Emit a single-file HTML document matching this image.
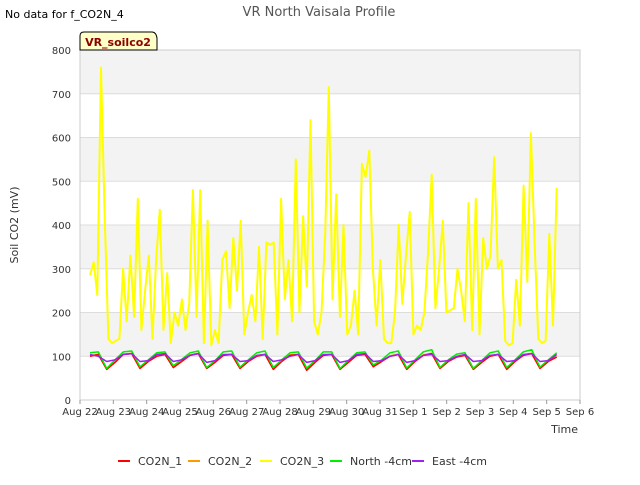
<!DOCTYPE html>
<html><head><meta charset="utf-8"><style>
body{margin:0;background:#fff;font-family:"Liberation Sans",sans-serif}
svg text{font-family:"DejaVu Sans","Liberation Sans",sans-serif}
</style></head><body>
<svg width="640" height="480" xmlns="http://www.w3.org/2000/svg">
<text x="5" y="18" font-size="11" fill="#000">No data for f_CO2N_4</text>
<text x="319" y="16" font-size="13" fill="#555" text-anchor="middle">VR North Vaisala Profile</text>
<g id="bands"></g>
<g id="grid"></g>
<rect x="80" y="50" width="500" height="350" fill="none" stroke="#ccc"/>
<g id="axes"></g>
<g id="series"></g>
<g>
<path d="M80,50 V36 Q80,32 84,32 H152 Q156,32 157,38 V50 Z" fill="#ffffc8" stroke="#000"/>
<text x="118" y="46" font-size="11" font-weight="bold" fill="#8b0000" text-anchor="middle">VR_soilco2</text>
</g>
<text x="18" y="225" font-size="11" fill="#333" text-anchor="middle" transform="rotate(-90 18 225)">Soil CO2 (mV)</text>
<text x="578" y="433" font-size="11" fill="#333" text-anchor="end">Time</text>
<g id="legend"></g>
</svg>
<script>
const xTicks=["Aug 22","Aug 23","Aug 24","Aug 25","Aug 26","Aug 27","Aug 28","Aug 29","Aug 30","Aug 31","Sep 1","Sep 2","Sep 3","Sep 4","Sep 5","Sep 6"];
const yTicks=[0,100,200,300,400,500,600,700,800];
const co2n3=[285,315,240,760,420,140,130,135,140,300,180,330,190,460,160,250,330,140,320,435,160,290,130,200,170,230,160,220,480,190,480,130,410,125,160,130,320,340,210,370,250,410,150,200,240,180,350,140,360,355,360,150,460,230,320,180,550,200,420,260,640,180,150,200,380,715,230,470,190,400,150,170,250,150,540,510,570,300,170,320,140,130,130,200,400,220,330,430,150,170,160,200,340,515,210,300,410,200,205,210,300,250,180,450,160,460,150,370,300,330,555,300,320,135,125,130,275,170,490,270,610,360,140,130,135,380,170,485];
const north4=[108,110,72,92,110,112,76,92,108,110,78,93,108,112,74,90,110,112,75,92,108,112,74,92,108,110,73,90,110,110,72,90,108,110,80,92,108,112,73,92,110,115,74,92,105,108,72,90,108,112,74,92,110,115,75,92,108];
const co2n1=[100,104,70,86,104,106,72,88,100,104,74,88,102,106,72,86,102,104,72,88,100,104,70,88,102,104,68,86,102,104,70,86,102,104,76,88,100,104,70,88,102,106,72,88,98,102,70,86,100,104,70,88,102,106,72,88,98];
const co2n2=co2n1.map(v=>v+1);
const east4=[104,100,88,92,104,106,88,90,104,106,88,92,102,106,86,90,104,104,88,90,102,104,88,92,100,104,86,90,104,104,86,90,104,106,88,90,100,104,86,90,102,104,88,90,100,104,88,90,102,104,88,90,104,106,88,90,104];
const NS="http://www.w3.org/2000/svg";
const X=d=>80+d*500/15, Y=v=>400-v*350/800;
function mk(t,a,p){const e=document.createElementNS(NS,t);for(const k in a)e.setAttribute(k,a[k]);p.appendChild(e);return e;}
const bands=document.getElementById('bands'),grid=document.getElementById('grid'),axes=document.getElementById('axes');
for(let i=0;i<8;i++){if(i%2==1){const r=mk('rect',{x:80,y:Y(yTicks[i+1]),width:500,height:Y(yTicks[i])-Y(yTicks[i+1]),fill:'#f3f3f3'},bands);

}}
yTicks.forEach(v=>{const l=mk('line',{x1:80,x2:580,y1:Y(v),y2:Y(v),stroke:'#ddd'},grid);


const t=mk('text',{x:71,y:Y(v)+4,'font-size':10,fill:'#333','text-anchor':'end'},axes);t.textContent=v;

});
xTicks.forEach((s,i)=>{mk('line',{x1:X(i),x2:X(i),y1:400,y2:404,stroke:'#999'},axes);
const t=mk('text',{x:X(i),y:415,'font-size':10,fill:'#333','text-anchor':'middle'},axes);t.textContent=s;

});
const ser=document.getElementById('series');
function line(arr,col,name,w){const n=arr.length,step=14/(n-1);
const pts=arr.map((v,i)=>X(0.3+i*step).toFixed(1)+','+Y(v).toFixed(1)).join(' ');
const p=mk('polyline',{points:pts,fill:'none',stroke:col,'stroke-width':w,'stroke-linejoin':'round'},ser);

}
line(co2n3,'#ffff00','co2n3-line',2);
line(co2n2,'#ff9900','co2n2-line',1.5);
line(co2n1,'#ff0000','co2n1-line',1.5);
line(north4,'#00ee00','north-4cm-line',1.5);
line(east4,'#a020f0','east-4cm-line',1.5);
const leg=document.getElementById('legend');
[["CO2N_1","#ff0000",118],["CO2N_2","#ff9900",188],["CO2N_3","#ffff00",260],["North -4cm","#00ee00",330],["East -4cm","#a020f0",412]].forEach(([s,c,x])=>{
const g=mk('g',{},leg);


mk('line',{x1:x,x2:x+12,y1:461,y2:461,stroke:c,'stroke-width':2},g);
const t=mk('text',{x:x+20,y:465,'font-size':11,fill:'#333'},g);t.textContent=s;});
</script>
</body></html>
